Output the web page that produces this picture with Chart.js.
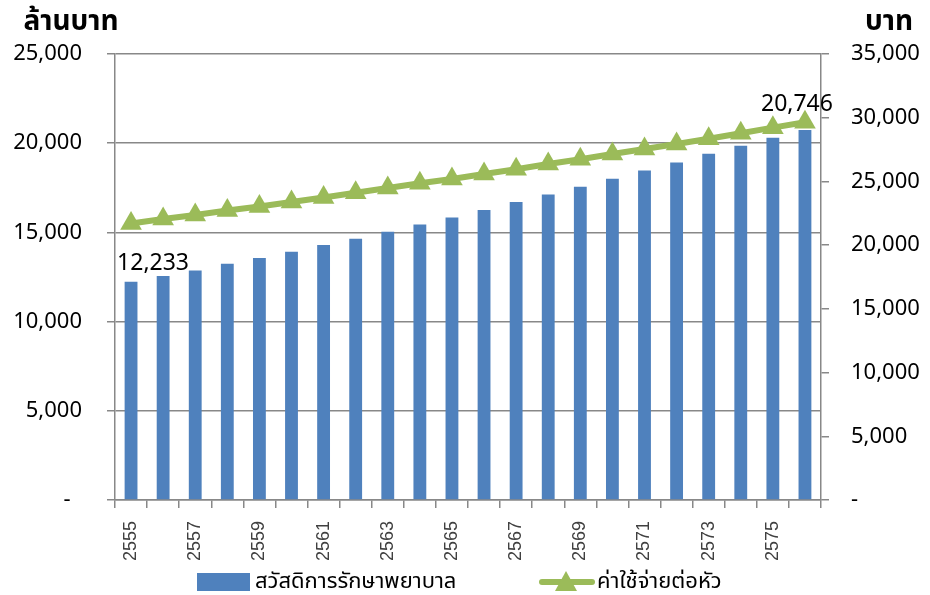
<!DOCTYPE html>
<html>
<head>
<meta charset="utf-8">
<script src="https://cdn.jsdelivr.net/npm/chart.js@4.4.1/dist/chart.umd.min.js"></script>
<style>
  html, body { margin: 0; padding: 0; background: #fff; }
  #wrap { width: 930px; height: 595px; }
</style>
</head>
<body>
<div id="wrap"><canvas id="chart" width="930" height="595"></canvas></div>
<script>
// Welfare medical spending projection, 2555–2576 (Thai years)

// ── Data ──────────────────────────────────────────────────────────────────────

const YEARS = ['2555', '2556', '2557', '2558', '2559', '2560', '2561', '2562', '2563', '2564', '2565',
  '2566', '2567', '2568', '2569', '2570', '2571', '2572', '2573', '2574', '2575', '2576'];

// ล้านบาท (left axis)
const WELFARE = [12233, 12550, 12870, 13240, 13560, 13910, 14290, 14650, 15030, 15440, 15840,
  16250, 16700, 17130, 17560, 18010, 18470, 18920, 19410, 19860, 20310, 20746];

// บาท per head (right axis)
const PER_HEAD = [21700, 22050, 22370, 22720, 23030, 23390, 23740, 24110, 24480, 24850, 25190,
  25580, 25950, 26370, 26740, 27150, 27550, 27940, 28350, 28780, 29220, 29640];

const SERIES_NAMES = ['สวัสดิการรักษาพยาบาล', 'ค่าใช้จ่ายต่อหัว'];
const AXIS_TITLES = ['ล้านบาท', 'บาท'];
const LEFT_MAX = 25000;
const RIGHT_MAX = 35000;
const TICK_STEP = 5000;

const BLUE = '#4F81BD';
const GREEN = '#9BBB59';
const GRID = '#888888';
const FONT = "'Noto Sans', 'Noto Sans Thai', Tahoma, sans-serif";

const fmt = (v) => (v === 0 ? '-  ' : v.toLocaleString('en-US'));

// ── Plugins: titles, data labels, legend ─────────────────────────────────────

const extras = {
  id: 'extras',
  afterDatasetsDraw(chart) {
    const ctx = chart.ctx;
    const bars = chart.getDatasetMeta(1).data;
    ctx.save();
    ctx.fillStyle = '#000';
    ctx.font = `23px ${FONT}`;
    ctx.textAlign = 'center';
    ctx.textBaseline = 'middle';
    const first = bars[0];
    const last = bars[bars.length - 1];
    ctx.fillText(fmt(WELFARE[0]), first.x + 22, first.y - 18);
    ctx.fillText(fmt(WELFARE[WELFARE.length - 1]), last.x - 8, last.y - 25);
    ctx.restore();
  },
  afterDraw(chart) {
    const ctx = chart.ctx;
    const area = chart.chartArea;
    ctx.save();
    ctx.fillStyle = '#000';
    ctx.textBaseline = 'middle';
    ctx.textAlign = 'center';
    ctx.font = `bold 28px ${FONT}`;
    ctx.fillText(AXIS_TITLES[0], area.left - 44, 22);
    ctx.fillText(AXIS_TITLES[1], area.right + 68, 22);

    // legend
    const ly = 582;
    ctx.font = `22px ${FONT}`;
    ctx.textAlign = 'left';
    ctx.fillStyle = BLUE;
    ctx.fillRect(197, ly - 9, 53, 18);
    ctx.fillStyle = '#000';
    ctx.fillText(SERIES_NAMES[0], 255, ly);

    ctx.strokeStyle = GREEN;
    ctx.lineWidth = 6;
    ctx.lineCap = 'round';
    ctx.beginPath();
    ctx.moveTo(542, ly);
    ctx.lineTo(592, ly);
    ctx.stroke();
    ctx.fillStyle = GREEN;
    ctx.beginPath();
    ctx.moveTo(566, ly - 11);
    ctx.lineTo(577, ly + 9);
    ctx.lineTo(555, ly + 9);
    ctx.closePath();
    ctx.fill();
    ctx.fillStyle = '#000';
    ctx.fillText(SERIES_NAMES[1], 597, ly);
    ctx.restore();
  },
};

// ── Chart ─────────────────────────────────────────────────────────────────────

new Chart(document.getElementById('chart'), {
  data: {
    labels: YEARS,
    datasets: [
      {
        type: 'line',
        label: SERIES_NAMES[1],
        data: PER_HEAD,
        yAxisID: 'y1',
        borderColor: GREEN,
        borderWidth: 6,
        pointStyle: 'triangle',
        pointRadius: 12.5,
        pointBackgroundColor: GREEN,
        pointBorderWidth: 0,
        tension: 0,
        order: 0,
      },
      {
        type: 'bar',
        label: SERIES_NAMES[0],
        data: WELFARE,
        yAxisID: 'y',
        backgroundColor: BLUE,
        barPercentage: 0.4,
        categoryPercentage: 1,
        order: 1,
      },
    ],
  },
  options: {
    responsive: false,
    animation: false,
    layout: { padding: { top: 54, left: 0, right: 0, bottom: 0 } },
    plugins: { legend: { display: false }, tooltip: { enabled: false } },
    scales: {
      x: {
        offset: true,
        afterFit: (s) => { s.height = 95; },
        grid: { offset: true, drawOnChartArea: false, color: GRID, lineWidth: 1.5, tickLength: 8 },
        border: { color: GRID, width: 1.5 },
        ticks: {
          autoSkip: false,
          minRotation: 90,
          maxRotation: 90,
          padding: 13,
          color: '#404040',
          font: { family: "'Liberation Sans', Arial, sans-serif", size: 18 },
          callback: (v, i) => (i % 2 === 0 ? YEARS[i] : ''),
        },
      },
      y: {
        position: 'left',
        min: 0,
        max: LEFT_MAX,
        afterFit: (s) => { s.width = 115; },
        grid: { color: GRID, lineWidth: 1.5, tickLength: 8 },
        border: { color: GRID, width: 1.5 },
        ticks: {
          stepSize: TICK_STEP,
          padding: 25,
          color: '#000',
          font: { family: FONT, size: 22 },
          callback: (v) => fmt(v),
        },
      },
      y1: {
        position: 'right',
        min: 0,
        max: RIGHT_MAX,
        afterFit: (s) => { s.width = 109; },
        grid: { drawOnChartArea: false, color: GRID, lineWidth: 1.5, tickLength: 8 },
        border: { color: GRID, width: 1.5 },
        ticks: {
          stepSize: TICK_STEP,
          padding: 22,
          color: '#000',
          font: { family: FONT, size: 22 },
          callback: (v) => (v === 0 ? '-' : v.toLocaleString('en-US')),
        },
      },
    },
  },
  plugins: [extras],
});
</script>
</body>
</html>
